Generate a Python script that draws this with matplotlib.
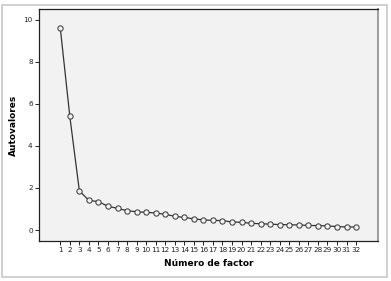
import matplotlib.pyplot as plt
from matplotlib.patches import Rectangle

factores = list(range(1, 33))
autovalores = [9.60, 5.40, 1.86, 1.41, 1.35, 1.13, 1.03, 0.92, 0.87, 0.84,
               0.81, 0.75, 0.65, 0.60, 0.53, 0.48, 0.46, 0.45, 0.38, 0.37,
               0.32, 0.30, 0.28, 0.26, 0.25, 0.24, 0.22, 0.21, 0.20, 0.16,
               0.15, 0.14]
y_ticks = [0, 2, 4, 6, 8, 10]

W, H = 391, 281
fig = plt.figure(figsize=(W / 100, H / 100), dpi=100)
fig.patch.set_facecolor('white')
# outer frame
fig.patches.append(Rectangle((2 / W, 4 / H), 385 / W, 272 / H, transform=fig.transFigure,
                             fill=False, edgecolor='#c8c8c8', linewidth=1.2))

ax = fig.add_axes([39 / W, 1 - 241 / H, (378 - 39) / W, (241 - 9) / H])
ax.set_facecolor('#f2f2f2')
ax.plot(factores, autovalores, color='#333333', linewidth=0.9,
        marker='o', markersize=3.8, markerfacecolor='#f2f2f2',
        markeredgecolor='#333333', markeredgewidth=0.7)

ax.set_xlim(-1.23, 34.3)
ax.set_ylim(-0.52, 10.5)
ax.set_xticks(factores)
ax.set_xticklabels([str(f) for f in factores])
ax.set_yticks(y_ticks)
ax.tick_params(axis='both', labelsize=5.2, length=3, width=0.7, pad=1.5, colors='#222222')

for s in ['left', 'bottom', 'top']:
    ax.spines[s].set_color('#222222')
    ax.spines[s].set_linewidth(0.9)
ax.spines['right'].set_color('#a0a0a0')
ax.spines['right'].set_linewidth(1.5)

ax.set_ylabel('Autovalores', fontsize=6.5, fontweight='bold', labelpad=4)
ax.set_xlabel('Número de factor', fontsize=6.5, fontweight='bold', labelpad=4)

fig.savefig('out.png', dpi=100)
plt.close('all')
